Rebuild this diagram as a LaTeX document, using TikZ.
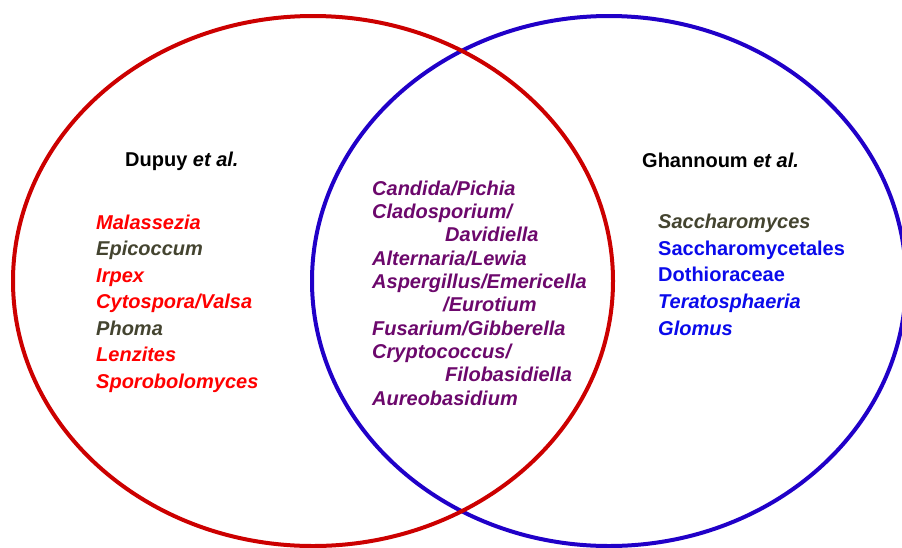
\documentclass[tikz,border=0pt]{standalone}
\usepackage{fontspec}
\setmainfont{Liberation Sans}
\definecolor{ringred}{RGB}{204,0,0}
\definecolor{ringblue}{RGB}{32,0,200}
\definecolor{txtred}{RGB}{255,0,0}
\definecolor{txtolive}{RGB}{68,68,48}
\definecolor{txtpurple}{RGB}{108,8,108}
\definecolor{txtblue}{RGB}{10,10,235}
\begin{document}
\begin{tikzpicture}[x=1pt,y=-1pt,
  lbl/.style={anchor=base west,inner sep=0pt,font=\fontsize{20}{24}\selectfont\bfseries\itshape},
  lblup/.style={anchor=base west,inner sep=0pt,font=\fontsize{20}{24}\selectfont\bfseries},
  ring/.style={line width=4pt}]
\useasboundingbox (0,0) rectangle (902,547);
\draw[ring,ringblue] (609,281) ellipse [x radius=297pt, y radius=265pt];
\draw[ring,ringred] (313,281) ellipse [x radius=300pt, y radius=265pt];
% left
\node[lblup] (dupuy) at (125,166) {Dupuy \textit{et al.}};
\node[lbl,txtred] (l1) at (96,229) {Malassezia};
\node[lbl,txtolive] (l2) at (96,255.5) {Epicoccum};
\node[lbl,txtred] (l3) at (96,282) {Irpex};
\node[lbl,txtred] (l4) at (96,308.5) {Cytospora/Valsa};
\node[lbl,txtolive] (l5) at (96,335) {Phoma};
\node[lbl,txtred] (l6) at (96,361.5) {Lenzites};
\node[lbl,txtred] (l7) at (96,388) {Sporobolomyces};
% centre
\node[lbl,txtpurple] (c1) at (372,195) {Candida/Pichia};
\node[lbl,txtpurple] (c2) at (372,218.3) {Cladosporium/};
\node[lbl,txtpurple] (c3) at (445,241.7) {Davidiella};
\node[lbl,txtpurple] (c4) at (372,265) {Alternaria/Lewia};
\node[lbl,txtpurple] (c5) at (372,288.3) {Aspergillus/Emericella};
\node[lbl,txtpurple] (c6) at (443,311.7) {/Eurotium};
\node[lbl,txtpurple] (c7) at (372,335) {Fusarium/Gibberella};
\node[lbl,txtpurple] (c8) at (372,358.3) {Cryptococcus/};
\node[lbl,txtpurple] (c9) at (445,381.7) {Filobasidiella};
\node[lbl,txtpurple] (c10) at (372,405) {Aureobasidium};
% right
\node[lblup] (ghannoum) at (642,167) {Ghannoum \textit{et al.}};
\node[lbl,txtolive] (r1) at (658,228.3) {Saccharomyces};
\node[lblup,txtblue] (r2) at (658,255) {Saccharomycetales};
\node[lblup,txtblue] (r3) at (658,281.7) {Dothioraceae};
\node[lbl,txtblue] (r4) at (658,308.3) {Teratosphaeria};
\node[lbl,txtblue] (r5) at (658,335) {Glomus};
\end{tikzpicture}
\end{document}
